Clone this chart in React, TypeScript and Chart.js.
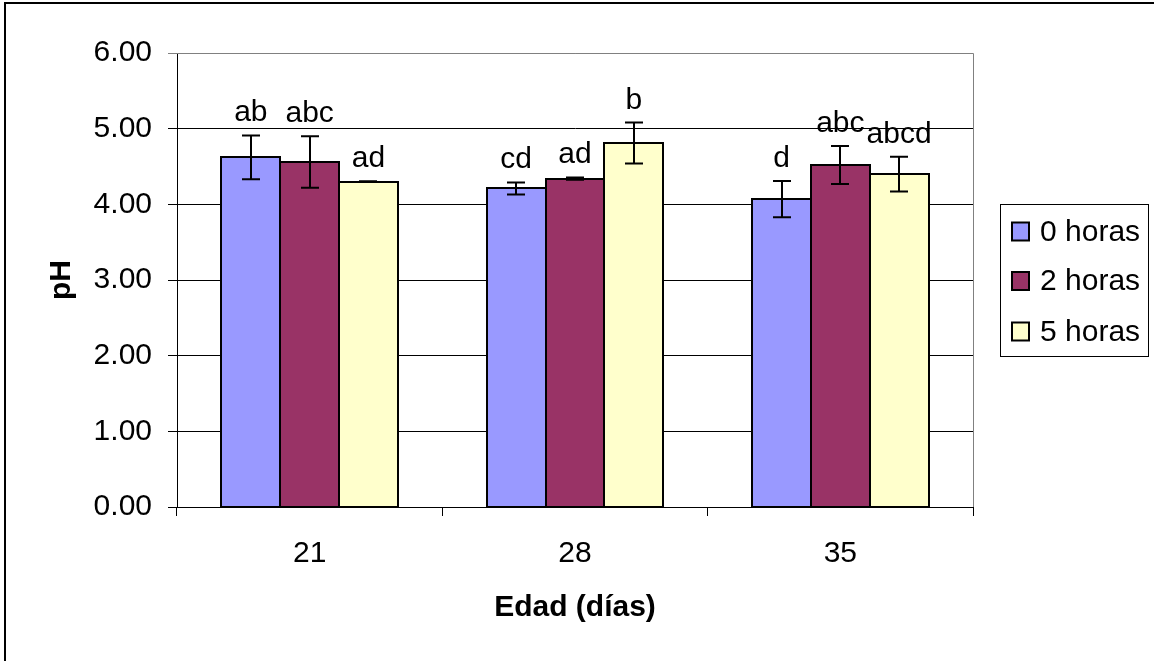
import React, { useEffect, useRef } from "react";
import { Chart, registerables } from "chart.js";

Chart.register(...registerables);

const categories = ["21", "28", "35"];
const seriesNames = ["0 horas", "2 horas", "5 horas"];
const values0h = [4.62, 4.21, 4.07];
const values2h = [4.56, 4.34, 4.52];
const values5h = [4.3, 4.81, 4.4];
const errors0h = [0.29, 0.08, 0.24];
const errors2h = [0.34, 0.015, 0.25];
const errors5h = [0.005, 0.27, 0.23];
const letters0h = ["ab", "cd", "d"];
const letters2h = ["abc", "ad", "abc"];
const letters5h = ["ad", "b", "abcd"];
const yTicks = [0, 1, 2, 3, 4, 5, 6];

const colors = ["#9999FF", "#993366", "#FFFFCC"];
const FONT = "Arial, 'Liberation Sans', sans-serif";

const errorsAll = [errors0h, errors2h, errors5h];
const lettersAll = [letters0h, letters2h, letters5h];

const frameAndDecor = {
  id: "frameAndDecor",
  beforeDraw(chart: any) {
    const ctx = chart.ctx;
    ctx.save();
    ctx.fillStyle = "#ffffff";
    ctx.fillRect(0, 0, chart.width, chart.height);
    ctx.strokeStyle = "#000";
    ctx.lineWidth = 2;
    ctx.beginPath();
    ctx.moveTo(5, chart.height + 5);
    ctx.lineTo(5, 3);
    ctx.lineTo(chart.width + 5, 3);
    ctx.stroke();
    ctx.restore();
  },
  afterDatasetsDraw(chart: any) {
    const ctx = chart.ctx;
    const y = chart.scales.y;
    ctx.save();
    // bar outlines (shared edges like the original)
    chart.data.datasets.forEach((ds: any, di: number) => {
      const meta = chart.getDatasetMeta(di);
      meta.data.forEach((bar: any) => {
        const l = Math.round(bar.x - bar.width / 2);
        const r = Math.round(bar.x + bar.width / 2);
        const t = Math.round(bar.y);
        const b = Math.round(bar.base);
        ctx.strokeStyle = "#000";
        ctx.lineWidth = 2;
        ctx.strokeRect(l, t, r - l, b - t);
      });
    });
    chart.data.datasets.forEach((ds: any, di: number) => {
      const meta = chart.getDatasetMeta(di);
      meta.data.forEach((bar: any, i: number) => {
        const v = ds.data[i];
        const e = errorsAll[di][i];
        const x = Math.round(bar.x);
        const yTop = y.getPixelForValue(v + e);
        const yBot = y.getPixelForValue(v - e);
        ctx.strokeStyle = "#000";
        ctx.lineWidth = 2;
        ctx.beginPath();
        ctx.moveTo(x, yTop);
        ctx.lineTo(x, yBot);
        ctx.moveTo(x - 9, yTop);
        ctx.lineTo(x + 9, yTop);
        ctx.moveTo(x - 9, yBot);
        ctx.lineTo(x + 9, yBot);
        ctx.stroke();
        ctx.fillStyle = "#000";
        ctx.font = `30px ${FONT}`;
        ctx.textAlign = "center";
        ctx.textBaseline = "alphabetic";
        ctx.fillText(lettersAll[di][i], bar.x, yTop - 14);
      });
    });
    ctx.restore();
  },
  afterDraw(chart: any) {
    const ctx = chart.ctx;
    const a = chart.chartArea;
    ctx.save();
    ctx.strokeStyle = "#808080";
    ctx.lineWidth = 1;
    ctx.beginPath();
    ctx.moveTo(a.left, Math.round(a.top) + 0.5);
    ctx.lineTo(Math.round(a.right) + 0.5, Math.round(a.top) + 0.5);
    ctx.lineTo(Math.round(a.right) + 0.5, a.bottom);
    ctx.stroke();
    ctx.strokeStyle = "#000";
    ctx.beginPath();
    ctx.moveTo(Math.round(a.right) + 0.5, a.bottom);
    ctx.lineTo(Math.round(a.right) + 0.5, a.bottom + 9);
    ctx.stroke();

    // legend
    const lx = 1000, ly = 204, lw = 148, lh = 152;
    ctx.strokeStyle = "#000";
    ctx.lineWidth = 1;
    ctx.strokeRect(lx + 0.5, ly + 0.5, lw, lh);
    const rowY = [231.5, 281, 331.5];
    chart.data.datasets.forEach((ds: any, i: number) => {
      const cy = rowY[i];
      ctx.fillStyle = ds.backgroundColor;
      ctx.fillRect(1012, cy - 9, 17, 18);
      ctx.lineWidth = 2;
      ctx.strokeStyle = "#000";
      ctx.strokeRect(1012, cy - 9, 17, 18);
      ctx.fillStyle = "#000";
      ctx.font = `30px ${FONT}`;
      ctx.textAlign = "left";
      ctx.textBaseline = "middle";
      ctx.fillText(ds.label, 1040, cy + 1);
    });
    ctx.restore();
  },
};

export default function App() {
  const canvasRef = useRef<HTMLCanvasElement | null>(null);

  useEffect(() => {
    if (!canvasRef.current) return;
    const valuesAll = [values0h, values2h, values5h];
    const chart = new Chart(canvasRef.current, {
      type: "bar",
      data: {
        labels: categories,
        datasets: seriesNames.map((name, i) => ({
          label: name,
          data: valuesAll[i],
          backgroundColor: colors[i],
          borderColor: "#000",
          borderWidth: 0,
          categoryPercentage: 0.665,
          barPercentage: 1,
        })),
      },
      options: {
        responsive: false,
        animation: false,
        devicePixelRatio: 1,
        layout: { padding: { left: 0, top: 53, right: 181, bottom: 0 } },
        plugins: {
          legend: { display: false },
          tooltip: { enabled: false },
        },
        scales: {
          x: {
            offset: true,
            grid: {
              offset: true,
              drawOnChartArea: false,
              drawTicks: true,
              tickLength: 9,
              color: "#000",
            },
            border: { color: "#000", width: 1 },
            ticks: {
              color: "#000",
              font: { family: FONT, size: 30 },
              padding: 20,
            },
            title: {
              display: true,
              text: "Edad (días)",
              color: "#000",
              font: { family: FONT, size: 30, weight: "bold" },
              padding: 35,
            },
            afterFit: (scale: any) => {
              scale.height = 154;
            },
          },
          y: {
            min: 0,
            max: 6,
            afterBuildTicks: (scale: any) => {
              scale.ticks = yTicks.map((v) => ({ value: v }));
            },
            ticks: {
              color: "#000",
              font: { family: FONT, size: 30 },
              padding: 16,
              callback: (v: any) => Number(v).toFixed(2),
            },
            grid: {
              color: (c: any) => (c.tick && c.tick.value === 6 ? "#808080" : "#000"),
              lineWidth: 1,
              drawTicks: true,
              tickLength: 9,
            },
            border: { color: "#000", width: 1 },
            title: {
              display: true,
              text: "pH",
              color: "#000",
              font: { family: FONT, size: 30, weight: "bold" },
              padding: 44,
            },
            afterFit: (scale: any) => {
              scale.width = 177;
            },
          },
        },
      },
      plugins: [frameAndDecor],
    });
    return () => chart.destroy();
  }, []);

  return (
    <div style={{ position: "fixed", left: 0, top: 0, width: 1154, height: 661, overflow: "hidden", background: "#fff" }}>
      <canvas ref={canvasRef} width={1154} height={661} style={{ display: "block" }} />
    </div>
  );
}
